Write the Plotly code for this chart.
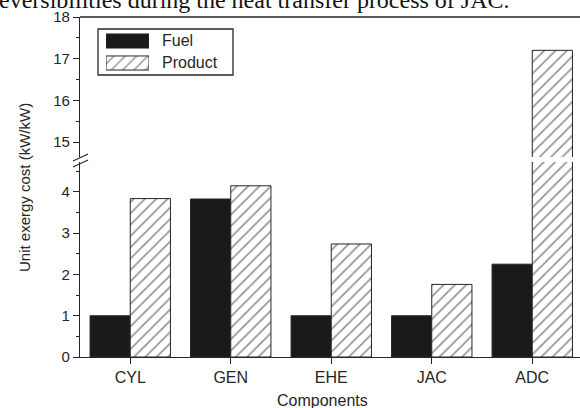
import plotly.graph_objects as go

# Unit exergy cost per component (kW/kW)
components = ["CYL", "GEN", "EHE", "JAC", "ADC"]
fuel = [1.0, 3.83, 1.0, 1.0, 2.25]
product = [3.84, 4.15, 2.74, 1.76, 17.2]

# legend swatch entries (bottom to top)
legend_labels = ["Product", "Fuel"]
legend_swatch = [1, 1]

W, H = 580, 408
L, R, T, B = 80, 0, 17, 51
plot_h = H - T - B

def py(y_px):
    """pixel row -> paper y"""
    return (H - B - y_px) / plot_h

def px(x_px):
    return (x_px - L) / (W - L - R)

FONT = "Liberation Sans, Arial, sans-serif"
INK = "#262626"
FUEL_C = "#1a1a1a"
HATCH = dict(shape="/", fgcolor="#222222", bgcolor="white", size=8, solidity=0.2)

fig = go.Figure()

for ya in ("y", "y2"):
    fig.add_trace(go.Bar(
        x=components, y=fuel, name="Fuel", xaxis="x", yaxis=ya,
        marker=dict(color=FUEL_C, line=dict(color=INK, width=1)),
        showlegend=False, cliponaxis=True,
    ))
    fig.add_trace(go.Bar(
        x=components, y=product, name="Product", xaxis="x", yaxis=ya,
        marker=dict(color="white", line=dict(color=INK, width=1), pattern=HATCH),
        showlegend=False, cliponaxis=True,
    ))

# legend swatches on a small helper axis pair
fig.add_trace(go.Bar(
    x=legend_swatch, y=legend_labels, orientation="h", xaxis="x3", yaxis="y3",
    width=0.64, showlegend=False, hoverinfo="skip",
    marker=dict(color=["white", FUEL_C], line=dict(color=INK, width=1),
                pattern=dict(HATCH, shape=["/", ""])),
))

axis_common = dict(showline=True, linecolor=INK, linewidth=1.3, showgrid=False,
                   zeroline=False, ticks="outside", tickcolor=INK, tickwidth=1.2,
                   ticklen=6, tickfont=dict(family=FONT, size=15, color=INK))

fig.update_layout(
    width=W, height=H,
    margin=dict(l=L, r=R, t=T, b=B),
    paper_bgcolor="white", plot_bgcolor="white",
    barmode="group", bargap=0.2, bargroupgap=0.0,
    showlegend=False,
    xaxis=dict(**axis_common, anchor="y", domain=[0, 1],
               type="category", categoryorder="array", categoryarray=components,
               range=[-0.5, 4.475]),
    xaxis4=dict(overlaying="x", anchor="y", range=[-0.5, 4.475], showline=False,
                showgrid=False, zeroline=False, ticks="outside", ticklen=3,
                tickwidth=1.2, tickcolor=INK, tick0=-0.5, dtick=1,
                showticklabels=False),
    yaxis=dict(**axis_common, domain=[0, py(162)], range=[0, 4.727],
               tickvals=[0, 1, 2, 3, 4],
               minor=dict(ticks="outside", ticklen=3, tickcolor=INK, tick0=0, dtick=0.5)),
    yaxis2=dict(**axis_common, domain=[py(157), 1], range=[14.64, 18],
                tickvals=[15, 16, 17, 18], anchor="x",
                minor=dict(ticks="outside", ticklen=3, tickcolor=INK, tick0=14.5, dtick=0.5)),
    xaxis3=dict(domain=[px(106), px(149)], range=[0, 1], anchor="y3", visible=False,
                fixedrange=True),
    yaxis3=dict(domain=[py(74), py(30)], range=[-0.5, 1.5], anchor="x3", visible=False,
                type="category", categoryorder="array", categoryarray=legend_labels,
                fixedrange=True),
)
fig.update_xaxes(tickfont=dict(size=16))

# top frame line, legend frame and axis-break marks
fig.add_shape(type="line", xref="paper", yref="paper", x0=0, x1=1.02, y0=1, y1=1,
              line=dict(color=INK, width=1.3))
fig.add_shape(type="rect", xref="paper", yref="paper",
              x0=px(98), x1=px(233), y0=py(75), y1=py(29),
              line=dict(color=INK, width=1.3), fillcolor="rgba(0,0,0,0)")
fig.add_shape(type="rect", xref="paper", yref="paper",
              x0=px(74), x1=px(87), y0=py(162), y1=py(157),
              line=dict(width=0), fillcolor="white")
for dy in (-3, 3):
    fig.add_shape(type="line", xref="paper", yref="paper",
                  x0=px(73), x1=px(88), y0=py(164 + dy), y1=py(157 + dy),
                  line=dict(color=INK, width=1.2))

annots = [
    dict(text="Fuel", x=px(160), y=py(41), xanchor="left", yanchor="middle",
         font=dict(family=FONT, size=16, color=INK)),
    dict(text="Product", x=px(160), y=py(63), xanchor="left", yanchor="middle",
         font=dict(family=FONT, size=16, color=INK)),
    dict(text="Components", x=px(322), y=py(400), xanchor="center", yanchor="middle",
         font=dict(family=FONT, size=16, color=INK)),
    dict(text="Unit exergy cost (kW/kW)", x=px(24), y=py(188), xanchor="center",
         yanchor="middle", textangle=-90, font=dict(family=FONT, size=15, color=INK)),
    dict(text="eversibilities during the heat transfer process of JAC.", x=px(512),
         y=py(0.5), xanchor="right", yanchor="middle",
         font=dict(family="Liberation Serif, Times New Roman, serif", size=24, color="#111")),
]
for a in annots:
    fig.add_annotation(xref="paper", yref="paper", showarrow=False, **a)

fig.write_html("out.html")
